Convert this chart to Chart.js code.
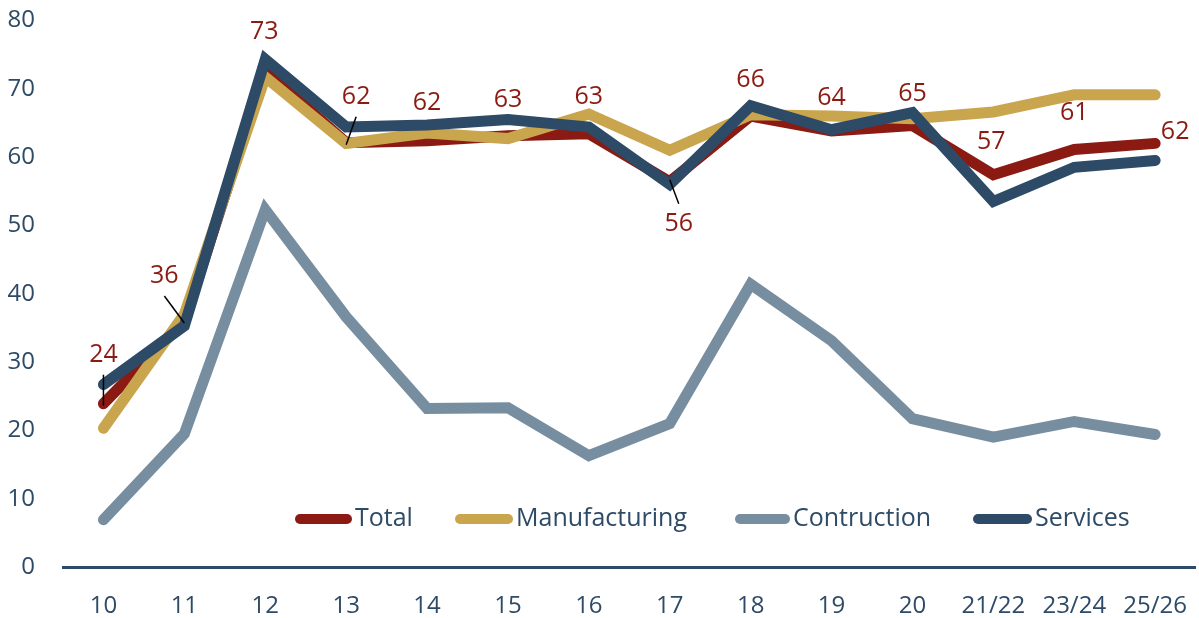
<!DOCTYPE html>
<html>
<head>
<meta charset="utf-8">
<script src="https://cdn.jsdelivr.net/npm/chart.js@4/dist/chart.umd.min.js"></script>
<style>
  html, body { margin: 0; padding: 0; background: #fff; overflow: hidden; }
  #wrap { width: 1199px; height: 618px; overflow: hidden; position: relative; }
  #chart { position: absolute; left: 0; top: -22px; }
</style>
</head>
<body>
<div id="wrap"><canvas id="chart" width="1212" height="640"></canvas></div>
<script>
const categories = ["10", "11", "12", "13", "14", "15", "16", "17", "18", "19", "20", "21/22", "23/24", "25/26"];
const total = [23.9, 36, 72.7, 62.1, 62.4, 63.1, 63.4, 56.4, 66, 63.8, 64.6, 57.4, 61.1, 62];
const manufacturing = [20.3, 37, 71.7, 62, 63.5, 62.7, 66.3, 61, 66.2, 66, 65.6, 66.6, 69.1, 69.1];
const construction = [6.9, 19.5, 52.3, 36.6, 23.2, 23.3, 16.3, 21, 41.4, 33.1, 21.7, 19, 21.3, 19.4];
const services = [26.7, 35.3, 74.3, 64.4, 64.7, 65.5, 64.4, 56, 67.5, 64, 66.5, 53.5, 58.5, 59.5];

const navy = '#2d4a66';
const font = "'Open Sans', 'Noto Sans', sans-serif";
const shiftY = 22; // canvas is moved up by this much

// label offsets from the Total point: [dx, dy, leader]
const labelOffsets = [
    [0, -49, true], [-20, -45, true], [-1, -38, false], [10, -46, true],
    [0, -38, false], [0, -36, false], [0, -37, false], [9, 42, true],
    [0, -36, false], [0, -33, false], [0, -32, false], [-2, -33, false],
    [0, -37, false], [20, -12, false]
];

const dataLabels = {
    id: 'dataLabels',
    afterDatasetsDraw(chart) {
        const ctx = chart.ctx;
        const meta = chart.getDatasetMeta(0);
        ctx.save();
        meta.data.forEach((pt, i) => {
            const [dx, dy, leader] = labelOffsets[i];
            const lx = pt.x + dx, ly = pt.y + dy;
            if (leader) {
                ctx.strokeStyle = '#000';
                ctx.lineWidth = 1.5;
                ctx.beginPath();
                const sy = dy < 0 ? ly + 20 : ly - 20;
                ctx.moveTo(lx, sy);
                ctx.lineTo(pt.x, pt.y + (dy < 0 ? 2 : -2));
                ctx.stroke();
            }
            ctx.fillStyle = '#8b1a12';
            ctx.font = `25px ${font}`;
            ctx.textAlign = 'center';
            ctx.textBaseline = 'middle';
            ctx.fillText(Math.round(total[i]).toString(), lx, ly);
        });
        ctx.restore();
    }
};

const legendPos = [[295, 355], [455, 516], [735, 793], [973, 1035]];
const innerLegend = {
    id: 'innerLegend',
    afterDraw(chart) {
        const ctx = chart.ctx;
        const y = 519 + shiftY;
        ctx.save();
        chart.data.datasets.forEach((ds, i) => {
            const [x0, tx] = legendPos[i];
            ctx.strokeStyle = ds.borderColor;
            ctx.lineWidth = 10;
            ctx.lineCap = 'round';
            ctx.beginPath();
            ctx.moveTo(x0 + 5, y);
            ctx.lineTo(tx - 8, y);
            ctx.stroke();
            ctx.fillStyle = navy;
            ctx.font = `25px ${font}`;
            ctx.textAlign = 'left';
            ctx.textBaseline = 'middle';
            ctx.fillText(ds.label, tx, y);
        });
        ctx.restore();
    }
};

function line(label, data, color, order) {
    return {
        label, data, order,
        borderColor: color,
        backgroundColor: color,
        borderWidth: 11,
        borderCapStyle: 'round',
        borderJoinStyle: 'miter',
        pointRadius: 0,
        tension: 0,
        fill: false,
        clip: false
    };
}

new Chart(document.getElementById('chart'), {
    type: 'line',
    data: {
        labels: categories,
        datasets: [
            line('Total', total, '#8b1a12', 4),
            line('Manufacturing', manufacturing, '#c9a54e', 3),
            line('Contruction', construction, '#778da0', 2),
            line('Services', services, navy, 1)
        ]
    },
    options: {
        responsive: false,
        animation: false,
        plugins: {
            legend: { display: false },
            tooltip: { enabled: false }
        },
        scales: {
            x: {
                offset: true,
                grid: { display: false, drawTicks: false },
                border: { display: true, color: navy, width: 3 },
                ticks: { color: navy, font: { family: font, size: 24 }, padding: 25, maxRotation: 0, minRotation: 0 },
                afterFit: (s) => { s.height = 51; }
            },
            y: {
                min: 0, max: 80,
                grid: { display: false, drawTicks: false },
                border: { display: false },
                ticks: { stepSize: 10, color: navy, font: { family: font, size: 24 }, padding: 28 },
                afterFit: (s) => { s.width = 63; }
            }
        }
    },
    plugins: [dataLabels, innerLegend]
});
</script>
</body>
</html>
